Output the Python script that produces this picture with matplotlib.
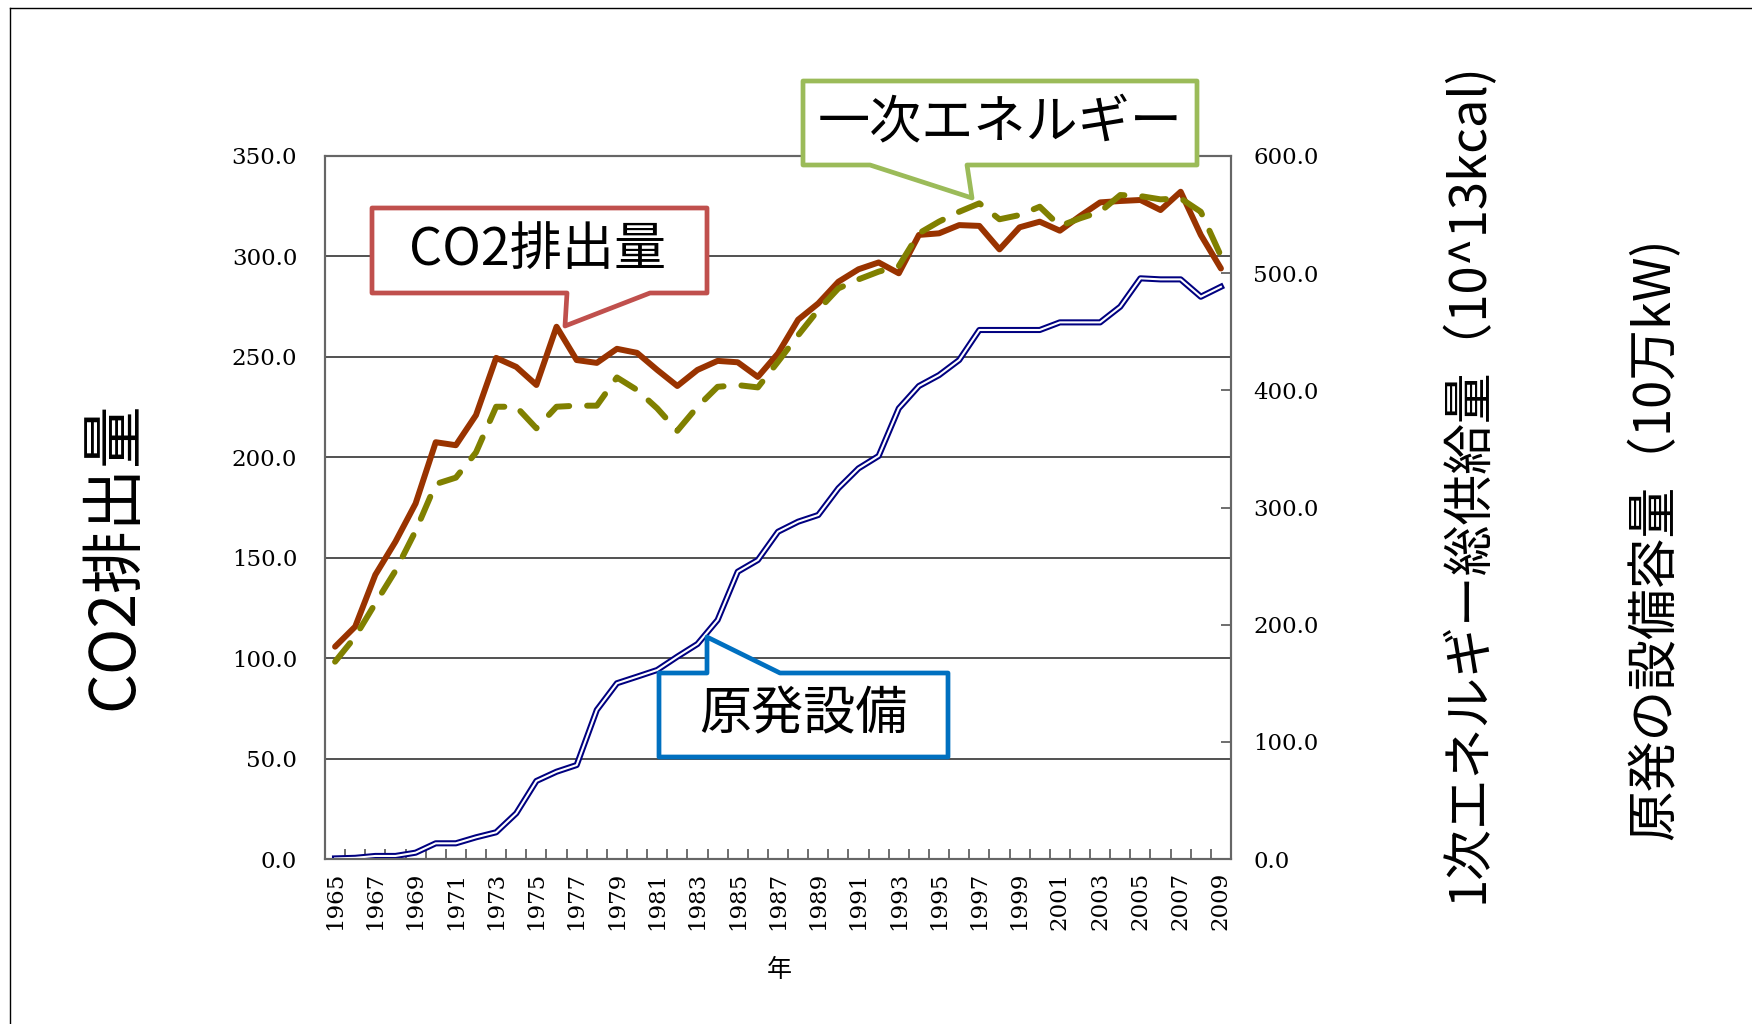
import matplotlib
matplotlib.use("Agg")
import matplotlib.pyplot as plt
import numpy as np
from matplotlib.patches import Polygon
from matplotlib.lines import Line2D

years = list(range(1965, 2010))

co2 = [105.7, 115.7, 141.5, 158.0, 177.0, 207.5, 206.0, 221.0, 249.5, 245.0,
       236.0, 265.0, 248.4, 247.0, 254.0, 252.0, 243.5, 235.5, 243.5, 248.0,
       247.3, 240.0, 251.7, 268.5, 276.6, 287.4, 293.6, 297.0, 291.6, 310.7,
       311.5, 315.6, 315.2, 303.5, 314.5, 317.3, 312.8, 320.1, 326.9, 327.6,
       328.1, 323.1, 332.2, 310.7, 294.0]

energy = [168.4, 189.7, 218.2, 246.0, 280.0, 320.0, 325.5, 347.0, 386.0, 386.0,
          367.6, 386.0, 386.9, 386.9, 411.0, 400.3, 384.6, 365.5, 386.0, 403.0,
          404.5, 402.5, 424.4, 447.0, 468.6, 487.0, 494.7, 501.3, 506.1, 534.0,
          544.0, 552.4, 559.6, 546.0, 549.6, 556.7, 540.2, 546.8, 552.4, 566.7,
          565.8, 563.0, 563.8, 552.4, 514.6]

nuclear = [0.5, 1.0, 2.6, 2.6, 5.4, 13.4, 13.4, 18.5, 22.8, 39.0,
           66.6, 74.5, 80.2, 127.2, 150.0, 155.6, 161.3, 172.7, 183.5, 204.0,
           245.2, 255.2, 279.3, 287.9, 293.6, 316.4, 333.4, 344.0, 384.6, 403.7,
           413.0, 425.9, 451.5, 451.5, 451.5, 451.5, 458.0, 458.0, 458.0, 471.4,
           495.6, 494.7, 494.7, 479.9, 488.4]

left_label = "CO2排出量"
right_label1 = "1次エネルギー総供給量（10^13kcal)"
right_label2 = "原発の設備容量（10万kW)"
x_label = "年"

W, H = 1752, 1024
JP = ["Noto Sans CJK JP", "DejaVu Sans"]

fig = plt.figure(figsize=(W / 100, H / 100), dpi=100)
ax = fig.add_axes([325 / W, 1 - 859 / H, (1231 - 325) / W, (859 - 156) / H])
ax2 = ax.twinx()

x = np.arange(len(years))

ax.plot(x, co2, color="#993300", lw=4.3, solid_joinstyle="round",
        solid_capstyle="round", zorder=3)
ax2.plot(x, energy, color="#808000", lw=4.3, dashes=(4, 3),
         dash_capstyle="round", dash_joinstyle="round", zorder=3)
ax2.plot(x, nuclear, color="#000080", lw=4.4, solid_joinstyle="round", zorder=2)
ax2.plot(x, nuclear, color="white", lw=1.5, solid_joinstyle="round", zorder=2)

ax.set_xlim(-0.5, len(years) - 0.5)
ax.set_ylim(0, 350)
ax2.set_ylim(0, 600)

ax.set_yticks(np.arange(0, 351, 50))
ax.set_yticklabels([f"{v:.1f}" for v in np.arange(0, 351, 50)])
ax2.set_yticks(np.arange(0, 601, 100))
ax2.set_yticklabels([f"{v:.1f}" for v in np.arange(0, 601, 100)])

ax.set_xticks(np.arange(-0.5, len(years), 1))
ax.set_xticklabels([])
ax.set_xticks(x[::2], minor=True)
ax.set_xticklabels([str(y) for y in years[::2]], minor=True, rotation=90,
                   family="DejaVu Serif", fontsize=16.5)

ax.tick_params(axis="x", which="major", direction="in", length=7,
               width=1.2, color="#555555")
ax.tick_params(axis="x", which="minor", length=0, pad=9)
ax.tick_params(axis="y", length=0, pad=20, labelsize=16.5)
ax2.tick_params(axis="y", direction="in", length=7, width=1.2,
                color="#555555", pad=16, labelsize=16.5)
for lab in ax.get_yticklabels() + ax2.get_yticklabels():
    lab.set_family("DejaVu Serif")

ax.yaxis.grid(True, color="#333333", lw=1.2)
ax.set_axisbelow(True)
for a in (ax, ax2):
    for s in a.spines.values():
        s.set_color("#666666")
        s.set_linewidth(1.5)

# axis titles
fig.text(114 / W, 1 - 556 / H, left_label, rotation=90, ha="center",
         va="center", fontsize=45, family=JP)
fig.text(1468 / W, 1 - 483 / H, right_label1, rotation=90, ha="center",
         va="center", fontsize=36.5, family=JP)
fig.text(1655 / W, 1 - 539 / H, right_label2, rotation=90, ha="center",
         va="center", fontsize=36.5, family=JP)
fig.text(779 / W, 1 - 970 / H, x_label, ha="center", va="center",
         fontsize=18, family=JP)


def callout(pts, color, text, center):
    p = Polygon([(px / W, 1 - py / H) for px, py in pts], closed=True,
                transform=fig.transFigure, facecolor="white",
                edgecolor=color, lw=3.4, joinstyle="round", zorder=10)
    fig.add_artist(p)
    fig.text(center[0] / W, 1 - center[1] / H, text, ha="center",
             va="center", fontsize=37.5, family=JP, zorder=11)


callout([(372, 208), (707, 208), (707, 293), (650, 293), (565, 326),
         (567, 293), (372, 293)], "#C0504D", "CO2排出量", (538, 250))
callout([(803, 81), (1197, 81), (1197, 165), (967, 165), (972, 198),
         (870, 165), (803, 165)], "#9BBB59", "一次エネルギー", (1000, 123))
callout([(659, 673), (707, 673), (707, 637), (780, 673), (948, 673),
         (948, 757), (659, 757)], "#0070C0", "原発設備", (803, 715))

# outer frame (left and top edges)
fig.add_artist(Line2D([10 / W, 10 / W], [0, 1 - 8 / H], color="black",
                      lw=1, transform=fig.transFigure))
fig.add_artist(Line2D([10 / W, 1], [1 - 8 / H, 1 - 8 / H], color="black",
                      lw=1, transform=fig.transFigure))

fig.savefig("out.png", dpi=100, facecolor="white")
